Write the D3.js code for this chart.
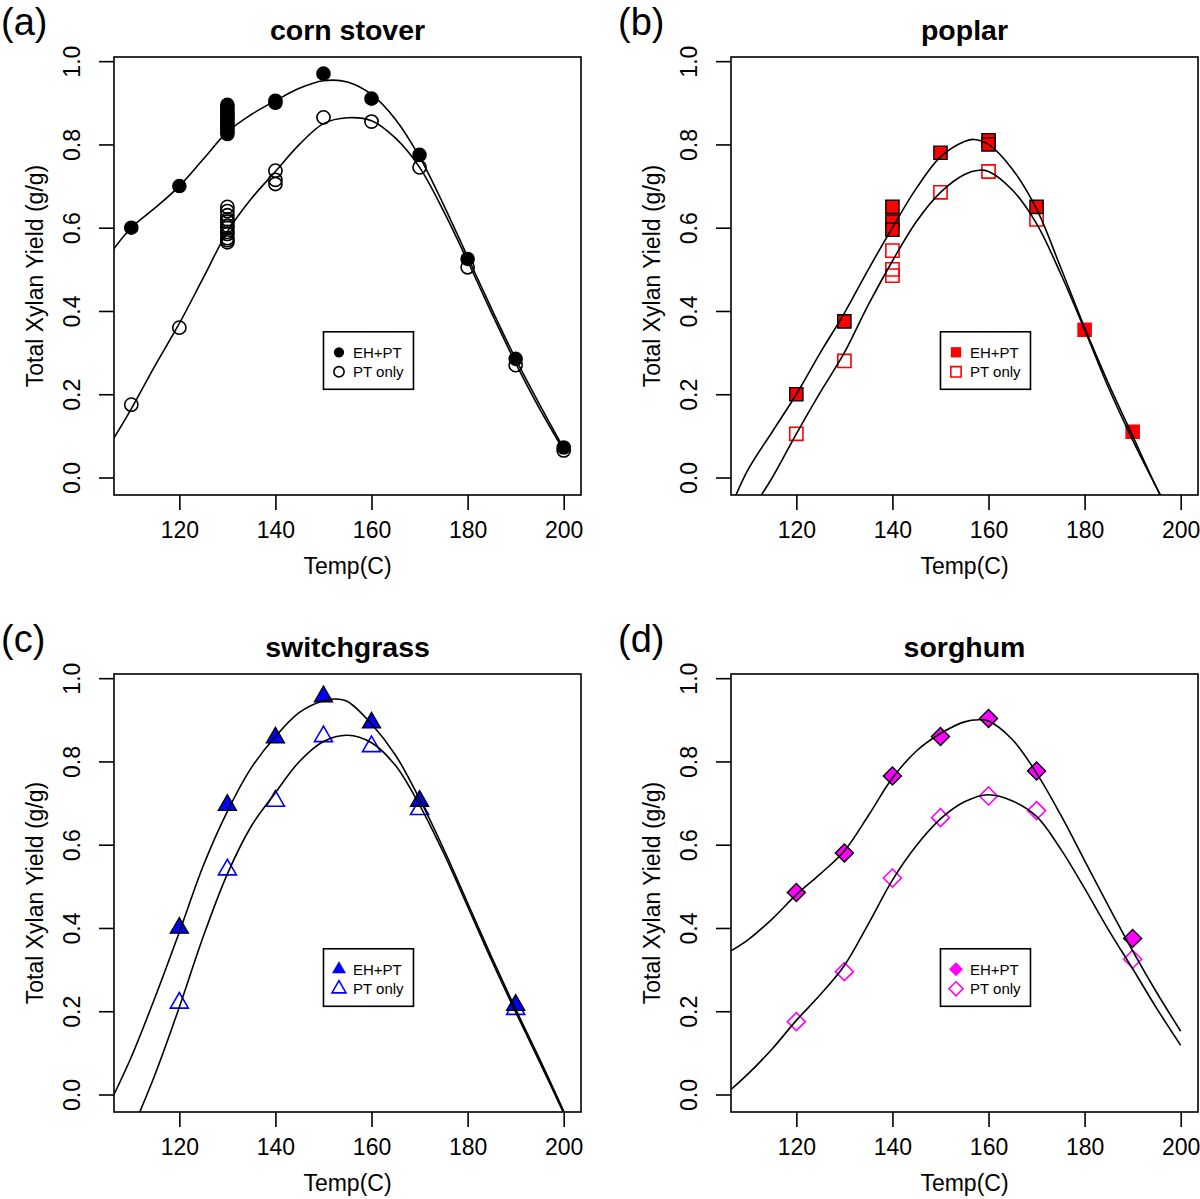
<!DOCTYPE html>
<html><head><meta charset="utf-8">
<script src="https://cdn.jsdelivr.net/npm/d3@7"></script>
<style>
html,body{margin:0;padding:0;background:#fff;}
svg{display:block;font-family:"Liberation Sans",Arial,Helvetica,sans-serif;}
</style></head>
<body><svg id="chart" width="1200" height="1199"></svg>
<script>
// ---------- data ----------
const xTicks = [120, 140, 160, 180, 200];
const yTicks = [0, 0.2, 0.4, 0.6, 0.8, 1.0];
const panelLabels = ["(a)", "(b)", "(c)", "(d)"];
const panelTitles = ["corn stover", "poplar", "switchgrass", "sorghum"];
const legendLabels = ["EH+PT", "PT only"];

// corn stover
const cornEH = [[110,0.60],[120,0.70],
  [130,0.825],[130,0.83],[130,0.835],[130,0.84],[130,0.845],[130,0.85],[130,0.855],[130,0.86],
  [130,0.865],[130,0.87],[130,0.875],[130,0.88],[130,0.885],[130,0.89],[130,0.895],
  [140,0.90],[140,0.905],[150,0.97],[160,0.91],[170,0.775],[180,0.525],[190,0.285],[200,0.072]];
const cornPT = [[110,0.175],[120,0.36],
  [130,0.65],[130,0.64],[130,0.63],[130,0.62],[130,0.615],[130,0.605],[130,0.60],[130,0.59],
  [130,0.585],[130,0.575],[130,0.57],[130,0.565],
  [140,0.737],[140,0.715],[140,0.705],[150,0.865],[160,0.855],[170,0.745],[180,0.505],[190,0.27],[200,0.065]];
const cornEHfit = [[106.4,0.55],[110,0.60],[115,0.648],[120,0.70],[125,0.765],[130,0.83],[135,0.872],
  [140,0.905],[145,0.935],[150,0.953],[155,0.95],[160,0.92],[165,0.86],[170,0.77],[175,0.655],
  [180,0.53],[185,0.405],[190,0.285],[195,0.175],[200,0.07]];
const cornPTfit = [[106.4,0.095],[110,0.165],[115,0.27],[120,0.37],[125,0.48],[130,0.59],[135,0.67],
  [140,0.735],[145,0.80],[150,0.85],[155,0.864],[160,0.857],[165,0.815],[170,0.745],[175,0.64],
  [180,0.52],[185,0.395],[190,0.275],[195,0.165],[200,0.065]];

// poplar
const poplarEH = [[120,0.20],[130,0.375],[140,0.65],[140,0.615],[140,0.595],[150,0.78],
  [160,0.81],[160,0.80],[170,0.65],[180,0.355],[190,0.11]];
const poplarEHborder = [1,1,1,1,1,1,1,1,1,0,0];
const poplarPT = [[120,0.105],[130,0.28],[140,0.545],[140,0.50],[140,0.485],[150,0.685],
  [160,0.735],[170,0.62]];
const poplarEHfit = [[106.4,-0.07],[110,0.02],[115,0.11],[120,0.20],[125,0.30],[130,0.395],[135,0.50],
  [140,0.60],[145,0.695],[150,0.77],[155,0.807],[157,0.812],[160,0.80],[165,0.74],[170,0.645],
  [175,0.505],[180,0.36],[185,0.225],[190,0.10],[195,-0.025],[197,-0.07]];
const poplarPTfit = [[110,-0.09],[115,0.0],[120,0.105],[125,0.205],[130,0.30],[135,0.415],
  [140,0.52],[145,0.615],[150,0.685],[155,0.728],[158,0.738],[160,0.735],[165,0.69],[170,0.61],
  [175,0.49],[180,0.355],[185,0.215],[190,0.09],[195,-0.025],[197,-0.07]];

// switchgrass
const switchEH = [[120,0.40],[130,0.695],[140,0.857],[150,0.956],[160,0.893],[170,0.705],[190,0.215]];
const switchPT = [[120,0.22],[130,0.54],[140,0.705],[150,0.86],[160,0.836],[170,0.685],[190,0.205]];
const switchEHfit = [[106.4,0.0],[110,0.09],[115,0.235],[120,0.39],[125,0.55],[130,0.68],[135,0.785],
  [140,0.86],[145,0.918],[150,0.946],[152.5,0.95],[155,0.944],[160,0.89],[165,0.815],[170,0.71],
  [175,0.59],[180,0.46],[185,0.33],[190,0.205],[195,0.085],[200,-0.04]];
const switchPTfit = [[110,-0.09],[115,0.05],[120,0.21],[125,0.38],[130,0.53],[135,0.645],[140,0.725],
  [145,0.80],[150,0.848],[155,0.863],[160,0.845],[165,0.79],[170,0.695],[175,0.58],[180,0.452],
  [185,0.322],[190,0.198],[195,0.078],[200,-0.045]];

// sorghum
const sorghumEH = [[120,0.485],[130,0.58],[140,0.765],[150,0.86],[160,0.903],[170,0.777],[190,0.375]];
const sorghumPT = [[120,0.175],[130,0.295],[140,0.52],[150,0.665],[160,0.717],[170,0.682],[190,0.325]];
const sorghumEHfit = [[106.4,0.345],[110,0.372],[115,0.422],[120,0.48],[125,0.53],[130,0.585],[135,0.67],
  [140,0.76],[145,0.825],[150,0.867],[155,0.895],[158,0.90],[160,0.897],[165,0.852],[170,0.772],
  [175,0.672],[180,0.562],[185,0.452],[190,0.345],[195,0.245],[200,0.152]];
const sorghumPTfit = [[106.4,0.012],[110,0.05],[115,0.11],[120,0.178],[125,0.24],[130,0.31],[135,0.41],
  [140,0.515],[145,0.598],[150,0.662],[155,0.703],[160,0.72],[165,0.705],[170,0.668],[175,0.59],
  [180,0.495],[185,0.395],[190,0.302],[195,0.207],[200,0.118]];

const legendPos = [150, 0.35];

// ---------- drawing ----------
const svg = d3.select("#chart");
const FONT = 23;
const panelW = 467, panelH = 438;
const origins = [[114,57],[731,57],[114,674],[731,674]];
const colors = ["#000000", "#FF0000", "#0000FF", "#FF00FF"];
const shapes = ["circle", "square", "triangle", "diamond"];
const ehData = [cornEH, poplarEH, switchEH, sorghumEH];
const ptData = [cornPT, poplarPT, switchPT, sorghumPT];
const ehFits = [cornEHfit, poplarEHfit, switchEHfit, sorghumEHfit];
const ptFits = [cornPTfit, poplarPTfit, switchPTfit, sorghumPTfit];

function shapePath(shape, s) {
  if (shape === "circle") {
    const r = 6.6 * s;
    return `M${-r},0A${r},${r} 0 1,0 ${r},0A${r},${r} 0 1,0 ${-r},0Z`;
  }
  if (shape === "square") {
    const h = 6.6 * s;
    return `M${-h},${-h}H${h}V${h}H${-h}Z`;
  }
  if (shape === "triangle") {
    const side = 18 * s, ht = side * Math.sqrt(3) / 2;
    return `M0,${-ht*2/3}L${side/2},${ht/3}L${-side/2},${ht/3}Z`;
  }
  const d = 9 * s;
  return `M0,${-d}L${d},0L0,${d}L${-d},0Z`;
}

for (let p = 0; p < 4; p++) {
  const [ox, oy] = origins[p];
  const x = d3.scaleLinear().domain([106.4, 203.6]).range([ox, ox + panelW]);
  const y = d3.scaleLinear().domain([-0.042, 1.01]).range([oy + panelH, oy]);
  const g = svg.append("g");
  const col = colors[p], shape = shapes[p];

  const clipId = "clip" + p;
  svg.append("clipPath").attr("id", clipId).append("rect")
    .attr("x", ox).attr("y", oy).attr("width", panelW).attr("height", panelH);

  const xAxis = g.append("g").attr("transform", `translate(0,${oy + panelH})`)
    .call(d3.axisBottom(x).tickValues(xTicks).tickSize(15).tickPadding(12).tickFormat(d3.format("d")));
  xAxis.select(".domain").remove();
  xAxis.selectAll("line").attr("stroke", "#000").attr("stroke-width", 1.6);
  xAxis.selectAll("text").attr("font-size", FONT).attr("fill", "#000").attr("font-family", null)
    .attr("dy", null).attr("y", 43);

  const yAxis = g.append("g").attr("transform", `translate(${ox},0)`)
    .call(d3.axisLeft(y).tickValues(yTicks).tickSize(15).tickFormat(d3.format(".1f")));
  yAxis.select(".domain").remove();
  yAxis.selectAll("line").attr("stroke", "#000").attr("stroke-width", 1.6);
  yAxis.selectAll("text").attr("font-size", FONT).attr("fill", "#000").attr("font-family", null)
    .attr("x", null).attr("dy", null)
    .attr("text-anchor", "middle")
    .attr("transform", "translate(-34,0) rotate(-90)");

  g.append("rect").attr("x", ox).attr("y", oy).attr("width", panelW).attr("height", panelH)
    .attr("fill", "none").attr("stroke", "#000").attr("stroke-width", 1.6);

  g.append("text").attr("x", ox + panelW / 2).attr("y", oy - 17).attr("text-anchor", "middle")
    .attr("font-size", 28.5).attr("font-weight", "bold").text(panelTitles[p]);
  g.append("text").attr("x", ox - 113).attr("y", oy - 22).attr("font-size", 38).text(panelLabels[p]);
  g.append("text").attr("x", ox + panelW / 2).attr("y", oy + panelH + 79).attr("text-anchor", "middle")
    .attr("font-size", FONT).text("Temp(C)");
  g.append("text").attr("transform", `translate(${ox - 71},${oy + panelH / 2}) rotate(-90)`)
    .attr("text-anchor", "middle").attr("font-size", FONT).text("Total Xylan Yield (g/g)");

  const pts = g.append("g").attr("clip-path", `url(#${clipId})`);
  pts.selectAll("path.pt").data(ptData[p]).join("path").attr("class", "pt")
    .attr("d", shapePath(shape, 1))
    .attr("transform", d => `translate(${x(d[0])},${y(d[1])})`)
    .attr("fill", "none").attr("stroke", col).attr("stroke-width", 1.6);
  pts.selectAll("path.eh").data(ehData[p]).join("path").attr("class", "eh")
    .attr("d", shapePath(shape, 1))
    .attr("transform", d => `translate(${x(d[0])},${y(d[1])})`)
    .attr("fill", col)
    .attr("stroke", (d, i) => (p === 1 && !poplarEHborder[i]) ? col : "#000")
    .attr("stroke-width", 1.4);

  const line = d3.line().x(d => x(d[0])).y(d => y(d[1])).curve(d3.curveCatmullRom.alpha(0.5));
  const lines = g.append("g").attr("clip-path", `url(#${clipId})`);
  [ehFits[p], ptFits[p]].forEach(f => {
    lines.append("path").attr("d", line(f)).attr("fill", "none")
      .attr("stroke", "#000").attr("stroke-width", 1.6);
  });

  const lx = x(legendPos[0]), ly = y(legendPos[1]);
  const lg = g.append("g");
  lg.append("rect").attr("x", lx).attr("y", ly).attr("width", 90).attr("height", 57.5)
    .attr("fill", "#fff").attr("stroke", "#000").attr("stroke-width", 1.6);
  const ls = 0.78;
  lg.append("path").attr("d", shapePath(shape, ls)).attr("transform", `translate(${lx + 15.5},${ly + 20.5})`)
    .attr("fill", col).attr("stroke", "none");
  lg.append("path").attr("d", shapePath(shape, ls)).attr("transform", `translate(${lx + 15.5},${ly + 40})`)
    .attr("fill", "none").attr("stroke", col).attr("stroke-width", 1.6);
  lg.append("text").attr("x", lx + 29.5).attr("y", ly + 26).attr("font-size", 15).text(legendLabels[0]);
  lg.append("text").attr("x", lx + 29.5).attr("y", ly + 45.5).attr("font-size", 15).text(legendLabels[1]);
}
</script>
</body></html>
